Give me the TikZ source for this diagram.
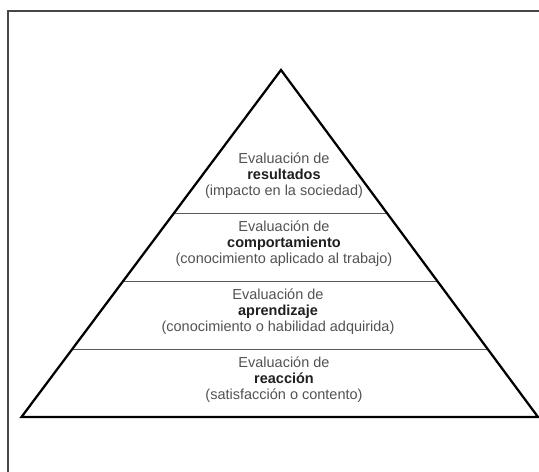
\documentclass[tikz,border=0pt]{standalone}
\usepackage{fontspec}
\setmainfont{Liberation Sans}
\usepackage{tikz}
\usetikzlibrary{calc}
\def\nivel#1#2{Evaluación de\\{\bfseries\color{black!88}#1}\\#2}
\tikzset{
	tier/.style={align=center, color=black!68, font=\fontsize{8.25}{9.1}\selectfont, inner sep=0pt}
}

\begin{document}
\begin{tikzpicture}[x=0.02cm, y=-0.02cm]
		%%%%% START %%%%%
		
		\useasboundingbox (0, 0) rectangle (539, 472);
		
		% marco
		\draw[line width=0.3mm, color=black!72] (8, 472) -- (8, 11) -- (539, 11);
		
		\coordinate (apex) at (281, 70);
		\coordinate (bl) at (21.5, 417);
		\coordinate (br) at (538, 417);
		
		% divisiones
		\foreach \t in {0.413, 0.6095, 0.806}
			\draw[line width=0.3mm, color=black!65] ($(apex)!\t!(bl)$) -- ($(apex)!\t!(br)$);
		
		\draw[line width=0.45mm, color=black, line join=miter] (apex) -- (br) -- (bl) -- cycle;
		
		\node[tier] (resultados) at (284, 176) {\nivel{resultados}{(impacto en la sociedad)}};
		\node[tier] (comportamiento) at (284, 244) {\nivel{comportamiento}{(conocimiento aplicado al trabajo)}};
		\node[tier] (aprendizaje) at (278, 312) {\nivel{aprendizaje}{(conocimiento o habilidad adquirida)}};
		\node[tier] (reaccion) at (284, 380) {\nivel{reacción}{(satisfacción o contento)}};
		
		%%%%% END %%%%%
	\end{tikzpicture}
\end{document}
